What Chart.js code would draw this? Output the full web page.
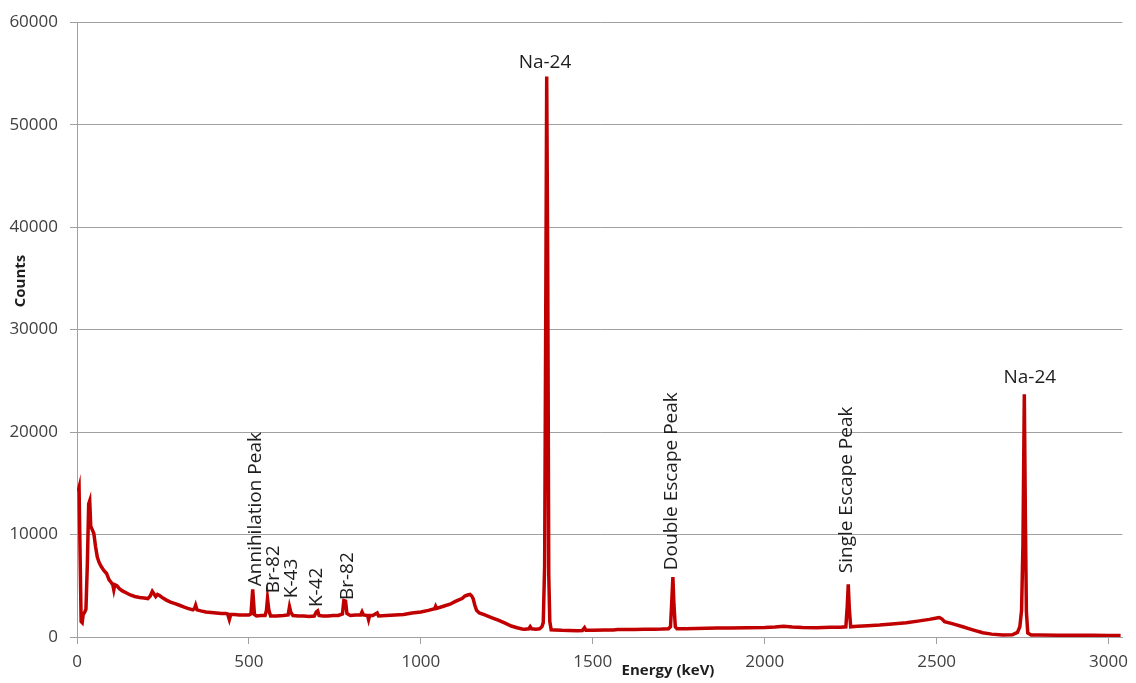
<!DOCTYPE html>
<html>
<head>
<meta charset="utf-8">
<title>Gamma spectrum</title>
<script src="https://cdn.jsdelivr.net/npm/chart.js@4.4.1/dist/chart.umd.min.js"></script>
<style>
  html, body { margin: 0; padding: 0; background: #ffffff; }
  #wrap { width: 1136px; height: 683px; position: relative; }
</style>
</head>
<body>
<div id="wrap"><canvas id="spectrum"></canvas></div>
<script>
// spectrum: energy (keV) and counts
const energy = [
    3, 6, 9, 12, 15, 18, 22, 26, 30, 34, 37, 40, 44, 49, 54, 59, 64, 70, 78, 86,
    93, 100, 104, 107, 110, 116, 124, 132, 144, 155, 168, 182, 195, 206, 213, 219, 224, 229, 234, 240,
    250, 260, 272, 285, 298, 310, 322, 337, 342, 345, 349, 360, 375, 390, 405, 420, 433, 438, 443, 447,
    458, 472, 486, 500, 506, 511, 516, 522, 535, 547, 551, 554, 558, 563, 580, 600, 614, 618, 622, 628,
    645, 660, 675, 690, 696, 700, 704, 715, 730, 745, 760, 772, 776, 781, 785, 795, 810, 825, 829, 833,
    845, 848, 851, 860, 873, 877, 900, 925, 950, 974, 1000, 1022, 1040, 1043, 1046, 1070, 1085, 1099, 1112, 1120,
    1128, 1136, 1143, 1148, 1152, 1157, 1162, 1170, 1186, 1205, 1225, 1245, 1263, 1280, 1295, 1302, 1314, 1318, 1322, 1335,
    1345, 1352, 1356, 1360, 1363, 1366, 1369, 1372, 1375, 1379, 1390, 1410, 1430, 1456, 1470, 1476, 1480, 1500, 1534, 1560,
    1572, 1600, 1620, 1650, 1680, 1700, 1720, 1726, 1729, 1733, 1736, 1740, 1745, 1770, 1800, 1830, 1862, 1900, 1950, 2000,
    2030, 2055, 2080, 2110, 2151, 2190, 2220, 2236, 2240, 2243, 2246, 2250, 2270, 2300, 2334, 2370, 2412, 2445, 2479, 2500,
    2508, 2516, 2523, 2545, 2576, 2605, 2634, 2660, 2692, 2720, 2735, 2742, 2747, 2751, 2755, 2758, 2761, 2765, 2775, 2800,
    2850, 2900, 2950, 3000, 3035
];
const counts = [
    14200, 14600, 8000, 1500, 1400, 2200, 2400, 2700, 7000, 13000, 13300, 10800, 10500, 10100, 8800, 7800, 7300, 6900, 6500, 6200,
    5600, 5300, 5100, 4600, 5100, 5000, 4700, 4500, 4300, 4100, 3950, 3850, 3800, 3750, 4000, 4450, 4200, 3950, 4150, 4050,
    3800, 3600, 3400, 3250, 3100, 2950, 2800, 2650, 2800, 3100, 2650, 2550, 2450, 2400, 2350, 2300, 2300, 2250, 1700, 2200,
    2200, 2150, 2150, 2150, 2250, 4650, 2200, 2050, 2100, 2100, 2600, 3750, 2600, 2050, 2050, 2100, 2150, 2950, 2400, 2100,
    2050, 2050, 2000, 2050, 2450, 2550, 2100, 2050, 2050, 2100, 2100, 2250, 3550, 3500, 2300, 2100, 2150, 2150, 2450, 2150,
    2100, 1700, 2100, 2100, 2350, 2050, 2100, 2150, 2200, 2350, 2450, 2600, 2750, 3000, 2800, 3050, 3200, 3450, 3650, 3750,
    4000, 4100, 4150, 4000, 3750, 3100, 2600, 2350, 2150, 1900, 1650, 1350, 1070, 900, 780, 750, 800, 1000, 800, 760,
    800, 1000, 1400, 7000, 30000, 54700, 36000, 6000, 1500, 700, 680, 650, 640, 620, 640, 900, 650, 650, 680, 690,
    720, 720, 740, 750, 760, 770, 800, 1000, 3000, 5850, 3200, 1000, 800, 800, 820, 850, 880, 880, 900, 920,
    980, 1050, 980, 920, 900, 940, 960, 1000, 3000, 5150, 2800, 1000, 1050, 1100, 1170, 1280, 1400, 1550, 1720, 1850,
    1900, 1750, 1500, 1300, 1000, 700, 420, 280, 200, 220, 450, 1000, 2600, 9000, 23700, 12000, 2500, 400, 200, 190,
    180, 170, 160, 150, 150
];

// peak annotations: text, anchor energy, anchor counts, rotated or not
const peakLabels = ["Annihilation Peak", "Br-82", "K-43", "K-42", "Br-82", "Na-24", "Double Escape Peak", "Single Escape Peak", "Na-24"];
const labelEnergy = [518, 573, 625, 698, 788, 1361, 1728, 2238, 2771];
const labelCounts = [4960, 4280, 3790, 2920, 3600, 56100, 6515, 6225, 25285];
const labelVertical = [true, true, true, true, true, false, true, true, false];

const xTicks = [0, 500, 1000, 1500, 2000, 2500, 3000];
const yTicks = [0, 10000, 20000, 30000, 40000, 50000, 60000];

const points = energy.map((e, i) => ({ x: e, y: counts[i] }));

const textPlugin = {
    id: "textPlugin",
    afterDatasetsDraw(chart) {
        const { ctx, scales: { x, y } } = chart;
        ctx.save();
        ctx.fillStyle = "#1e1e1e";
        ctx.font = "19px 'Open Sans'";
        ctx.textBaseline = "middle";
        peakLabels.forEach((text, i) => {
            ctx.save();
            ctx.translate(x.getPixelForValue(labelEnergy[i]), y.getPixelForValue(labelCounts[i]));
            if (labelVertical[i]) {
                ctx.rotate(-Math.PI / 2);
                ctx.textAlign = "left";
            } else {
                ctx.textAlign = "center";
            }
            ctx.fillText(text, 0, 0);
            ctx.restore();
        });

        // axis titles (Excel placed them off-centre)
        ctx.font = "bold 15px 'Open Sans'";
        ctx.textAlign = "center";
        ctx.fillText("Energy (keV)", 668, 671);
        ctx.translate(21, 281);
        ctx.rotate(-Math.PI / 2);
        ctx.fillText("Counts", 0, 0);
        ctx.restore();
    },
};

new Chart(document.getElementById("spectrum"), {
    type: "line",
    plugins: [textPlugin],
    data: {
        datasets: [{
            data: points,
            borderColor: "#c00000",
            borderWidth: 3.5,
            pointRadius: 0,
            tension: 0,
            fill: false,
        }],
    },
    options: {
        responsive: true,
        maintainAspectRatio: false,
        animation: false,
        layout: { padding: { top: 20, right: 0, left: 0, bottom: 0 } },
        plugins: {
            legend: { display: false },
            tooltip: { enabled: false },
        },
        scales: {
            x: {
                type: "linear",
                min: 0,
                max: 3040,
                afterBuildTicks: (scale) => {
                    scale.ticks = xTicks.map((v) => ({ value: v }));
                },
                afterFit: (scale) => { scale.height = 46; },
                ticks: {
                    autoSkip: false,
                    color: "#404040",
                    font: { family: "'Open Sans'", size: 17 },
                    padding: 8,
                    maxRotation: 0,
                    callback: (v) => String(v),
                },
                grid: { drawOnChartArea: false, drawTicks: true, tickLength: 7, color: "#a0a0a0" },
                border: { display: true, color: "#a0a0a0" },
            },
            y: {
                min: 0,
                max: 60000,
                afterBuildTicks: (scale) => {
                    scale.ticks = yTicks.map((v) => ({ value: v }));
                },
                afterFit: (scale) => { scale.width = 77; },
                ticks: {
                    color: "#404040",
                    font: { family: "'Open Sans'", size: 17 },
                    padding: 12,
                    callback: (v) => String(v),
                },
                grid: { color: "#a0a0a0", tickLength: 7 },
                border: { display: true, color: "#a0a0a0" },
            },
        },
    },
});
</script>
</body>
</html>
